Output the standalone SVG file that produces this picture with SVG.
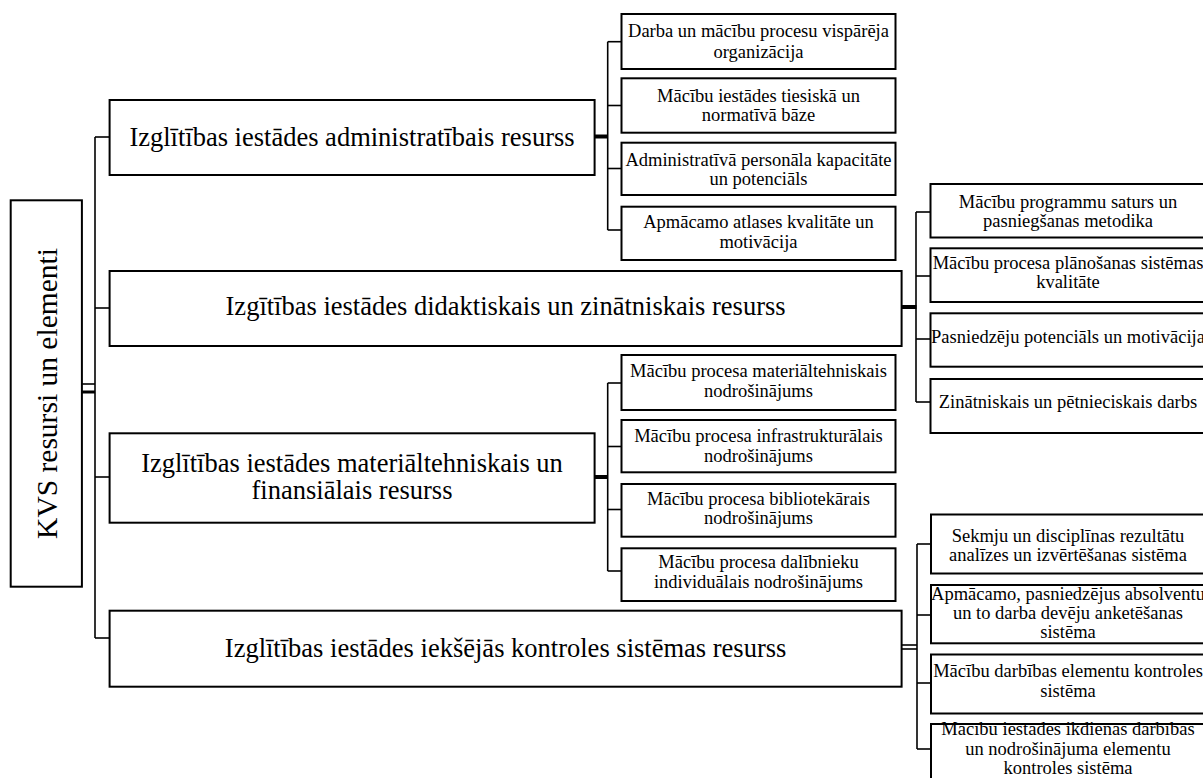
<svg xmlns="http://www.w3.org/2000/svg" width="1203" height="778" viewBox="0 0 1203 778">
<style>
.bx{fill:#fff;stroke:#000;stroke-width:2}
.ln{fill:none;stroke:#000;stroke-width:1.6}
.tk{fill:none;stroke:#000;stroke-width:4}
text{font-family:"Liberation Serif","Times New Roman",serif;fill:#000;text-anchor:middle}
.big{font-size:26.5px}
.sm{font-size:18.5px}
.root{font-size:29.5px}
</style>
<rect width="1203" height="778" fill="#fff"/>
<g id="connectors">
<line class="ln" x1="82" y1="384" x2="95" y2="384"/>
<line class="ln" x1="82" y1="392" x2="95" y2="392" style="stroke-width:3"/>
<line class="ln" x1="95" y1="137" x2="95" y2="638"/>
<line class="ln" x1="95" y1="137" x2="110" y2="137"/>
<line class="ln" x1="95" y1="308" x2="110" y2="308"/>
<line class="ln" x1="95" y1="477" x2="110" y2="477"/>
<line class="ln" x1="95" y1="638" x2="110" y2="638"/>
<line class="tk" x1="594.5" y1="136.5" x2="608" y2="136.5"/>
<line class="ln" x1="607.7" y1="41.7" x2="607.7" y2="230"/>
<line class="ln" x1="607.7" y1="41.7" x2="621.5" y2="41.7"/>
<line class="ln" x1="607.7" y1="105.5" x2="621.5" y2="105.5"/>
<line class="ln" x1="607.7" y1="168.5" x2="621.5" y2="168.5"/>
<line class="ln" x1="607.7" y1="230" x2="621.5" y2="230"/>
<line class="tk" x1="901.5" y1="307" x2="916.5" y2="307"/>
<line class="ln" x1="916" y1="212" x2="916" y2="402"/>
<line class="ln" x1="916" y1="212" x2="930.5" y2="212"/>
<line class="ln" x1="916" y1="276" x2="930.5" y2="276"/>
<line class="ln" x1="916" y1="339" x2="930.5" y2="339"/>
<line class="ln" x1="916" y1="402" x2="930.5" y2="402"/>
<line class="tk" x1="594.5" y1="477" x2="608" y2="477"/>
<line class="ln" x1="607.7" y1="383" x2="607.7" y2="571"/>
<line class="ln" x1="607.7" y1="383" x2="621.5" y2="383"/>
<line class="ln" x1="607.7" y1="446.5" x2="621.5" y2="446.5"/>
<line class="ln" x1="607.7" y1="509.5" x2="621.5" y2="509.5"/>
<line class="ln" x1="607.7" y1="571" x2="621.5" y2="571"/>
<line class="ln" x1="901.5" y1="645" x2="917" y2="645"/>
<line class="ln" x1="901.5" y1="649" x2="917" y2="649"/>
<line class="ln" x1="917" y1="544" x2="917" y2="749"/>
<line class="ln" x1="917" y1="544" x2="931" y2="544"/>
<line class="ln" x1="917" y1="615" x2="931" y2="615"/>
<line class="ln" x1="917" y1="683" x2="931" y2="683"/>
<line class="ln" x1="917" y1="749" x2="931" y2="749"/>
</g>
<g id="root">
<rect class="bx" x="10.7" y="200.3" width="71.2" height="386.4"/>
<text class="root" transform="translate(57,393.5) rotate(-90)" x="0" y="0">KVS resursi un elementi</text>
</g>
<g id="admin">
<rect class="bx" x="109.6" y="100" width="485" height="75"/>
<text class="big" x="352" y="145.7">Izglītības iestādes administratībais resurss</text>
</g>
<g id="didactic">
<rect class="bx" x="109.6" y="271" width="792" height="75"/>
<text class="big" x="505.6" y="315">Izgītības iestādes didaktiskais un zinātniskais resurss</text>
</g>
<g id="material">
<rect class="bx" x="109.6" y="433.3" width="485" height="89.4"/>
<text class="big" x="352" y="471.7">Izglītības iestādes materiāltehniskais un</text>
<text class="big" x="352" y="499.3">finansiālais resurss</text>
</g>
<g id="control">
<rect class="bx" x="109.6" y="610.7" width="792" height="76"/>
<text class="big" x="505.6" y="656.7">Izglītības iestādes iekšējās kontroles sistēmas resurss</text>
</g>
<g id="a1">
<rect class="bx" x="621.5" y="14" width="274" height="55"/>
<text class="sm" x="758.5" y="36.7">Darba un mācību procesu vispārēja</text>
<text class="sm" x="758.5" y="58.3">organizācija</text>
</g>
<g id="a2">
<rect class="bx" x="621.5" y="78.3" width="274" height="54.4"/>
<text class="sm" x="758.5" y="101.7">Mācību iestādes tiesiskā un</text>
<text class="sm" x="758.5" y="121">normatīvā bāze</text>
</g>
<g id="a3">
<rect class="bx" x="621.5" y="142.7" width="274" height="52.3"/>
<text class="sm" x="758.5" y="165.7">Administratīvā personāla kapacitāte</text>
<text class="sm" x="758.5" y="185">un potenciāls</text>
</g>
<g id="a4">
<rect class="bx" x="621.5" y="206.7" width="274" height="53.3"/>
<text class="sm" x="758.5" y="228.3">Apmācamo atlases kvalitāte un</text>
<text class="sm" x="758.5" y="248.3">motivācija</text>
</g>
<g id="d1">
<rect class="bx" x="930.5" y="184" width="290" height="53.5"/>
<text class="sm" x="1068" y="207.5">Mācību programmu saturs un</text>
<text class="sm" x="1068" y="227">pasniegšanas metodika</text>
</g>
<g id="d2">
<rect class="bx" x="930.5" y="248.3" width="290" height="53.7"/>
<text class="sm" x="1068" y="269">Mācību procesa plānošanas sistēmas</text>
<text class="sm" x="1068" y="288">kvalitāte</text>
</g>
<g id="d3">
<rect class="bx" x="930.5" y="313.3" width="290" height="53.4"/>
<text class="sm" x="1068" y="343">Pasniedzēju potenciāls un motivācija</text>
</g>
<g id="d4">
<rect class="bx" x="930.5" y="379" width="290" height="54"/>
<text class="sm" x="1068" y="408">Zinātniskais un pētnieciskais darbs</text>
</g>
<g id="m1">
<rect class="bx" x="621.5" y="355" width="274" height="55"/>
<text class="sm" x="758.5" y="376.7">Mācību procesa materiāltehniskais</text>
<text class="sm" x="758.5" y="396.7">nodrošinājums</text>
</g>
<g id="m2">
<rect class="bx" x="621.5" y="420" width="274" height="52.3"/>
<text class="sm" x="758.5" y="441.7">Mācību procesa infrastrukturālais</text>
<text class="sm" x="758.5" y="461.7">nodrošinājums</text>
</g>
<g id="m3">
<rect class="bx" x="621.5" y="484" width="274" height="52.7"/>
<text class="sm" x="758.5" y="505">Mācību procesa bibliotekārais</text>
<text class="sm" x="758.5" y="524">nodrošinājums</text>
</g>
<g id="m4">
<rect class="bx" x="621.5" y="548.3" width="274" height="52.7"/>
<text class="sm" x="758.5" y="568.3">Mācību procesa dalībnieku</text>
<text class="sm" x="758.5" y="587.7">individuālais nodrošinājums</text>
</g>
<g id="k1">
<rect class="bx" x="931" y="514.5" width="290" height="59"/>
<text class="sm" x="1068" y="542">Sekmju un disciplīnas rezultātu</text>
<text class="sm" x="1068" y="561">analīzes un izvērtēšanas sistēma</text>
</g>
<g id="k2">
<rect class="bx" x="931" y="585" width="290" height="58.3"/>
<text class="sm" x="1068" y="600">Apmācamo, pasniedzējus absolventu</text>
<text class="sm" x="1068" y="619">un to darba devēju anketēšanas</text>
<text class="sm" x="1068" y="637.5">sistēma</text>
</g>
<g id="k3">
<rect class="bx" x="931" y="654.5" width="290" height="59"/>
<text class="sm" x="1068" y="677">Mācību darbības elementu kontroles</text>
<text class="sm" x="1068" y="697">sistēma</text>
</g>
<g id="k4">
<rect class="bx" x="931" y="724" width="290" height="66"/>
<text class="sm" x="1068" y="735">Mācību iestādes ikdienas darbības</text>
<text class="sm" x="1068" y="754.5">un nodrošinājuma elementu</text>
<text class="sm" x="1068" y="774">kontroles sistēma</text>
</g>
</svg>
